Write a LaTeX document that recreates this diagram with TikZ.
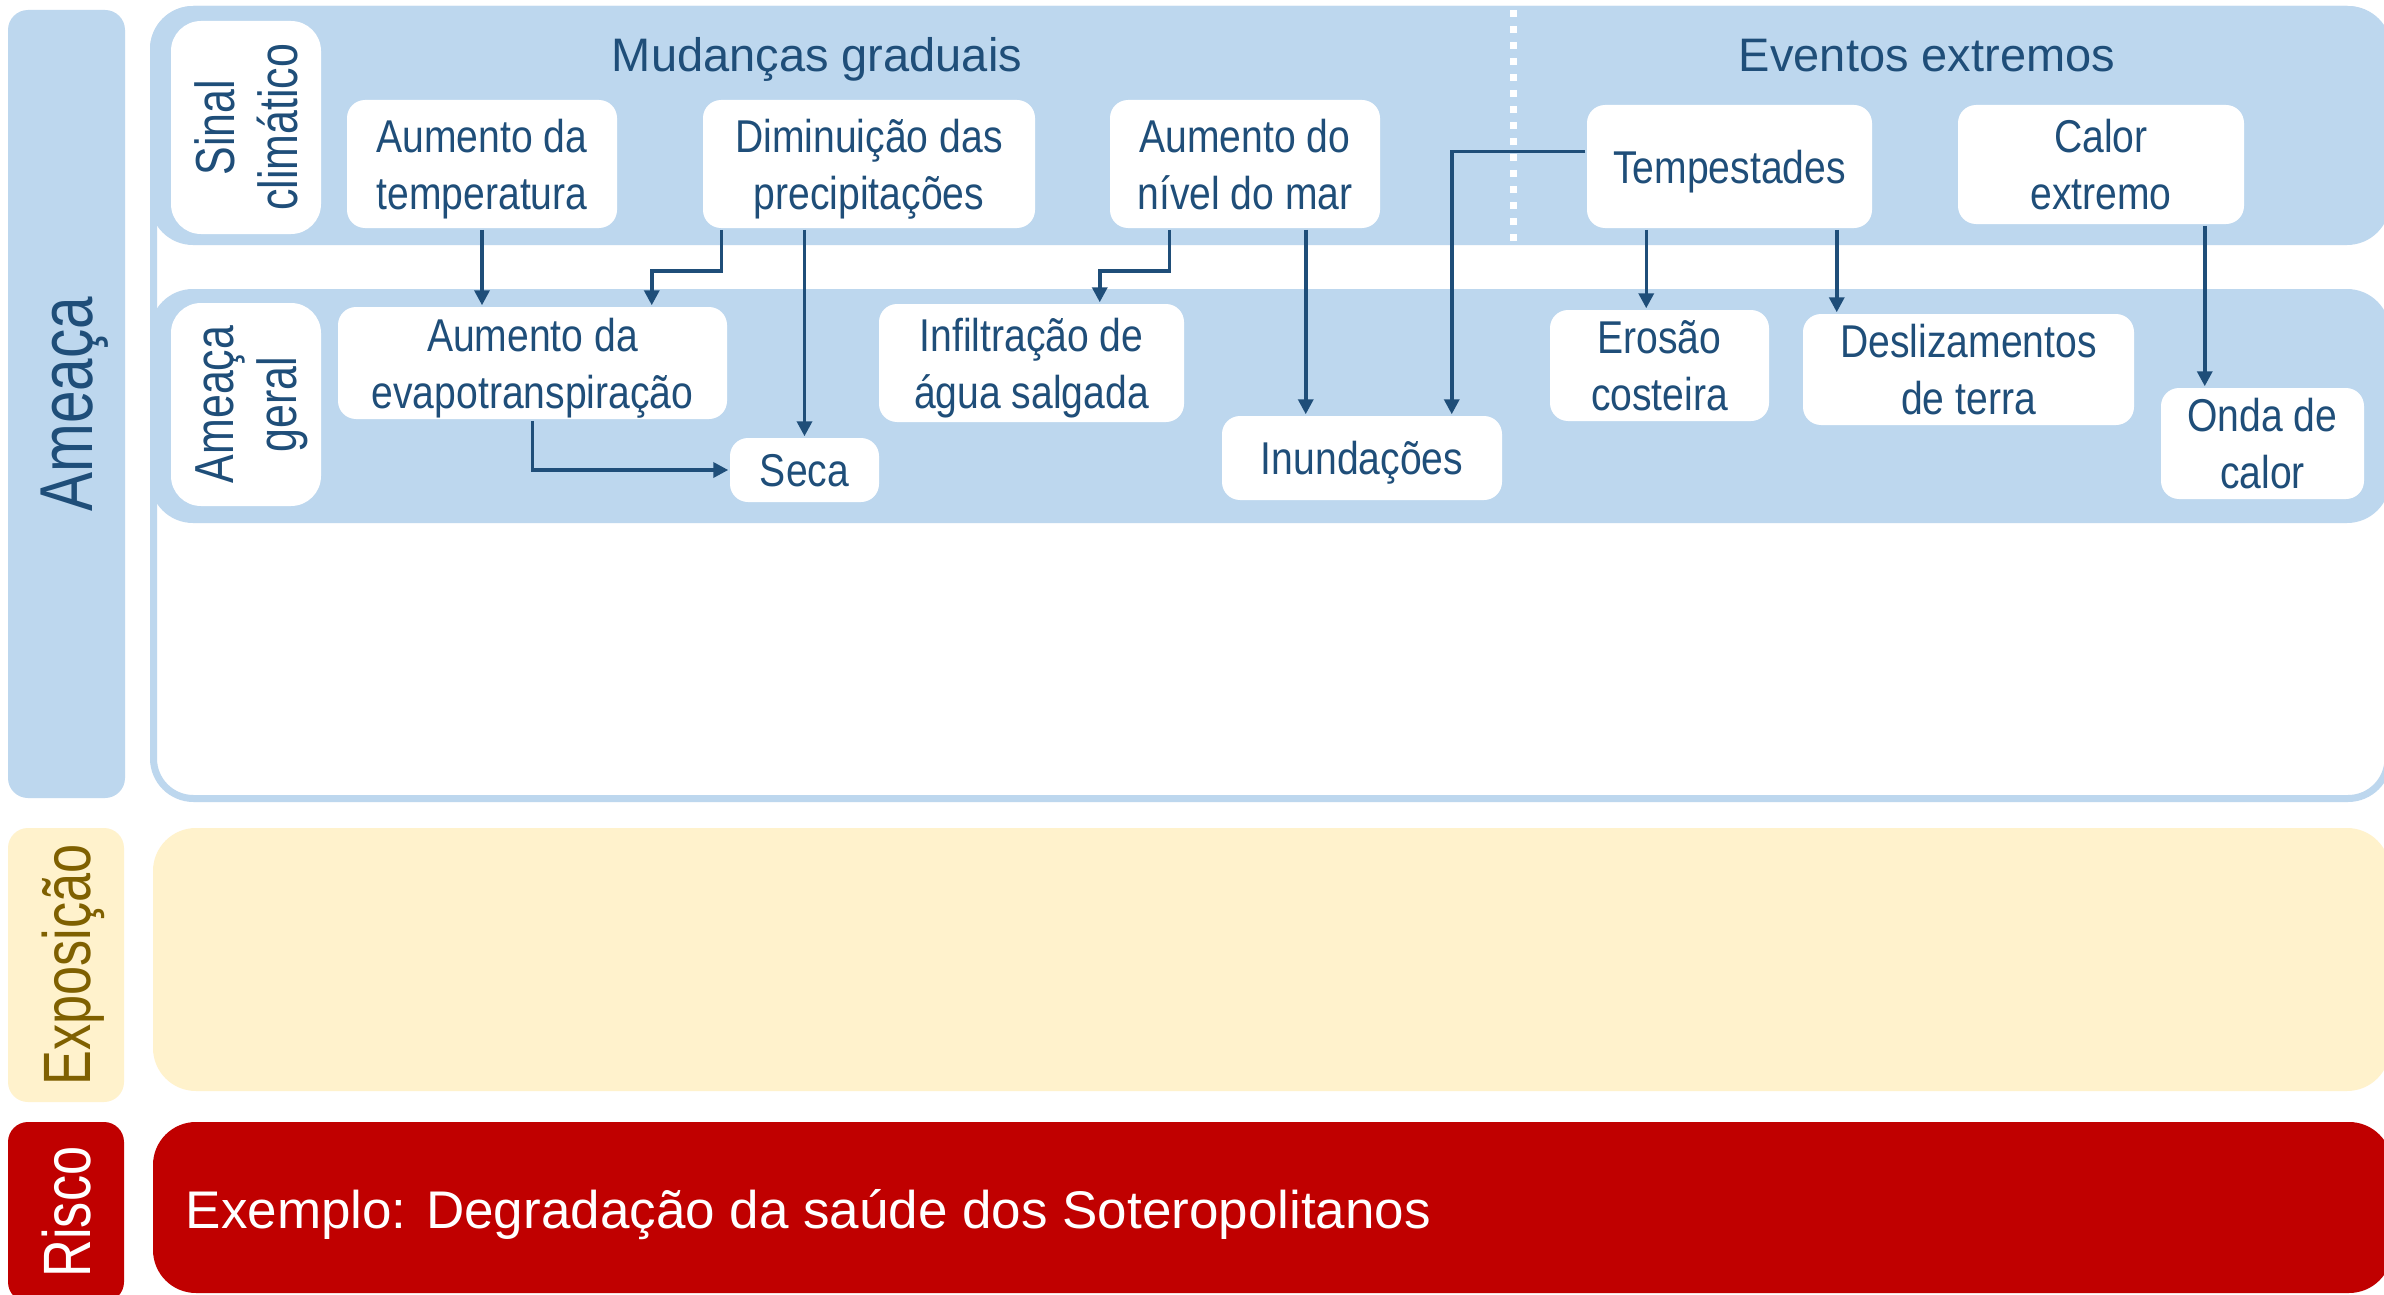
\documentclass[tikz,border=0pt]{standalone}
\usepackage{fontspec}
\setmainfont{Liberation Sans}
\newfontfamily\narrowfont[FakeStretch=0.85]{Liberation Sans}
\newfontfamily\sidefont[FakeStretch=0.78]{Liberation Sans}
\usetikzlibrary{arrows.meta}

\definecolor{bandblue}{HTML}{BDD7EE}
\definecolor{inkblue}{HTML}{1F4E79}
\definecolor{cream}{HTML}{FFF2CC}
\definecolor{olive}{HTML}{7F6000}
\definecolor{riskred}{HTML}{C00000}

\tikzset{every picture/.style={line width=1.75pt}}
\tikzset{
  band/.style={fill=bandblue, rounded corners=21.5pt},
  card/.style={fill=white, rounded corners=9pt, inner sep=0pt, align=center, text=inkblue, text depth=0pt, font=\narrowfont\fontsize{23}{28.5}\selectfont},
  tag/.style={fill=white, text=inkblue, rounded corners=15pt, inner sep=0pt, align=center, rotate=90, text depth=0pt, font=\sidefont\fontsize{27.5}{31.5}\selectfont},
  sidebar/.style={rounded corners=10pt, inner sep=0pt, rotate=90, text depth=0pt, font=\sidefont\fontsize{33.5}{40}\selectfont},
  heading/.style={anchor=base, inner sep=0pt, text=inkblue, font=\fontsize{23.5}{28}\selectfont},
  link/.style={draw=inkblue, line width=1.75pt, -{Triangle[length=7.5pt,width=7.5pt]}},
}

\begin{document}
\begin{tikzpicture}[x=0.5pt,y=0.5pt,yscale=-1,xscale=1]
    \clip (0,0) rectangle (2384,1295);
    \fill[white] (0,0) rectangle (2384,1295);

    %Shape: Frame [Ameaça]
    \draw[draw=bandblue, line width=3.5pt, rounded corners=20pt] (153.5,9.5) rectangle (2388,798.5);
    %Shape: Band [Sinal climático]
    \fill[band] (150,6) rectangle (2390,245);
    %Shape: Band [Ameaça geral]
    \fill[band] (150,289) rectangle (2390,523);
    %Shape: Band [Exposição]
    \fill[band, fill=cream] (153,828) rectangle (2390,1091);
    %Shape: Band [Risco]
    \fill[band, fill=riskred] (153,1122) rectangle (2392,1293);

    %Straight Lines: divider
    \draw[white, line width=3.5pt, dash pattern=on 3.5pt off 4.5pt] (1513,10) -- (1513,242);

    % Side bars
    \node[sidebar, fill=bandblue, text=inkblue, minimum width=394pt, minimum height=58.5pt, font=\sidefont\fontsize{37.5}{45}\selectfont] (ameaca) at (66.5,404) {Ameaça};
    \node[sidebar, fill=cream, text=olive, minimum width=137pt, minimum height=58pt] (exposicao) at (66,965) {Exposição};
    \node[sidebar, fill=riskred, text=white, minimum width=90pt, minimum height=58pt] (risco) at (66,1212) {Risco};

    % Row tags
    \node[tag, minimum width=106.5pt, minimum height=75pt] (sinal) at (246,127.5) {Sinal\\climático};
    \node[tag, minimum width=101.5pt, minimum height=75pt] (geral) at (246,404.5) {Ameaça\\geral};

    % Text Node
    \node[heading] (gradual) at (817,72) {Mudanças graduais};
    % Text Node
    \node[heading] (extremo) at (1927,72) {Eventos extremos};

    % Climate signals
    \node[card, minimum width=135pt, minimum height=64pt] (temp) at (482,164) {Aumento da\\temperatura};
    \node[card, minimum width=166pt, minimum height=64pt] (precip) at (869,164) {Diminuição das\\precipitações};
    \node[card, minimum width=135pt, minimum height=64pt] (nivel) at (1245,164) {Aumento do\\nível do mar};
    \node[card, minimum width=142.5pt, minimum height=61.5pt] (tempest) at (1729.5,166.5) {Tempestades};
    \node[card, minimum width=143pt, minimum height=59.5pt] (calor) at (2101,164.5) {Calor\\extremo};

    % General hazards
    \node[card, minimum width=194.5pt, minimum height=56pt] (evapo) at (532.5,363) {Aumento da\\evapotranspiração};
    \node[card, minimum width=74.5pt, minimum height=32pt] (seca) at (804.5,470) {Seca};
    \node[card, minimum width=152.5pt, minimum height=59pt] (infil) at (1031.5,363) {Infiltração de\\água salgada};
    \node[card, minimum width=140pt, minimum height=42pt] (inund) at (1362,458) {Inundações};
    \node[card, minimum width=109.5pt, minimum height=55.5pt] (erosao) at (1659.5,365.5) {Erosão\\costeira};
    \node[card, minimum width=165.5pt, minimum height=55.5pt] (desliz) at (1968.5,369.5) {Deslizamentos\\de terra};
    \node[card, minimum width=101.5pt, minimum height=55.5pt] (onda) at (2262.5,443.5) {Onda de\\calor};

    % Text Node
    \node[anchor=base west, inner sep=0pt, text=white, font=\fontsize{26.5}{32}\selectfont] (exemplo) at (184,1228) {Exemplo: Degradação da saúde dos Soteropolitanos};

    %Straight Lines
    \draw[link] (temp.south) -- (temp.south |- evapo.north);
    \coordinate (precip-out) at ([xshift=10pt]precip.south west);
    \coordinate (evapo-in) at ([xshift=-38.5pt]evapo.north east);
    \draw[link] (precip-out) -- ++(0,41) -| (evapo-in);
    \draw[link] (precip.south -| seca) -- (seca.north);
    \draw[link] (evapo.south) |- (seca.west);
    \coordinate (nivel-out) at ([xshift=30.5pt]nivel.south west);
    \coordinate (infil-in) at ([xshift=-43pt]infil.north east);
    \draw[link] (nivel-out) -- ++(0,41) -| (infil-in);
    \coordinate (nivel-down) at ([xshift=-38pt]nivel.south east);
    \draw[link] (nivel-down) -- (nivel-down |- inund.north);
    \coordinate (tempest-out) at ([yshift=-7.5pt]tempest.west);
    \coordinate (inund-in) at ([xshift=-26pt]inund.north east);
    \draw[link] (tempest-out) -| (inund-in);
    \coordinate (tempest-left) at ([xshift=30.5pt]tempest.south west);
    \draw[link] (tempest-left) -- (tempest-left |- erosao.north);
    \coordinate (tempest-right) at ([xshift=-18.5pt]tempest.south east);
    \draw[link] (tempest-right) -- (tempest-right |- desliz.north);
    \coordinate (calor-out) at ([xshift=-20.5pt]calor.south east);
    \draw[link] (calor-out) -- (calor-out |- onda.north);

\end{tikzpicture}
\end{document}
